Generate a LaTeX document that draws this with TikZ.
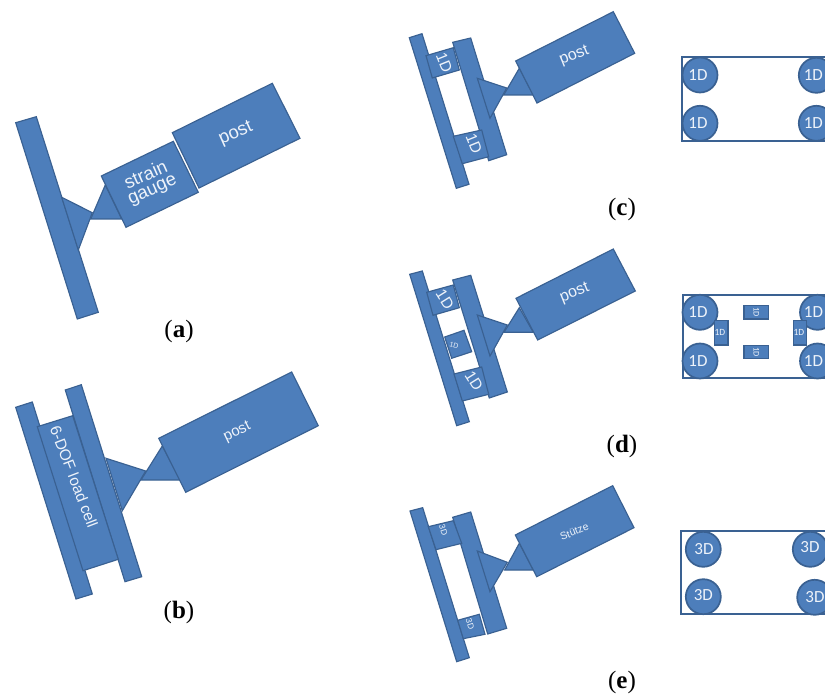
\documentclass[tikz,border=0pt]{standalone}
\usepackage{fontspec}
\setmainfont{Liberation Sans}
\newfontfamily\capfont{Carlito}
\newfontfamily\labfont{Liberation Serif}
\definecolor{partfill}{HTML}{4D7EBB}
\definecolor{partline}{HTML}{3A6192}
\definecolor{parttext}{HTML}{EEF3FA}
\tikzset{
  part/.style={draw=partline,fill=partfill,line width=1.15pt,line join=miter},
  frame/.style={draw=partline,line width=1.7pt},
  disc/.style={circle,draw=partline,fill=partfill,line width=1.7pt,minimum size=35pt,inner sep=0pt},
  tag/.style={text=parttext,inner sep=0pt,align=center},
  disctag/.style={text=parttext,inner sep=0pt,font=\capfont\fontsize{17}{17}\selectfont},
  sublabel/.style={inner sep=0pt,font=\labfont\fontsize{25}{25}\selectfont},
}
\newcommand{\fs}[1]{\fontsize{#1}{#1}\selectfont}
\begin{document}
\begin{tikzpicture}[x=1pt,y=-1pt]
\clip (0,0) rectangle (825,695);
\fill[white] (0,0) rectangle (825,695);

% (a)
\draw[part] (15.7,122.7) -- (36.3,116.7) -- (98.3,312.3) -- (77.3,319) -- cycle;
\draw[part] (61.7,197.3) -- (92.3,212.7) -- (78.3,250) -- cycle;
\draw[part] (105.3,185) -- (90.7,219) -- (121.7,219) -- cycle;
\draw[part] (101.3,176) -- (173.3,141.3) -- (198.3,192.3) -- (126,227.3) -- cycle;
\draw[part] (172.3,132.7) -- (272.3,83.3) -- (300,138.3) -- (199,188) -- cycle;
\node[tag,rotate=24,font=\fs{18.5}] (apost) at (236,134) {post};
\node[tag,rotate=24,font=\fontsize{18.5}{15}\selectfont] (agauge) at (149.3,182.7) {strain\\gauge};
\node[sublabel] (la) at (179,331) {(\textbf{a})};

% (b)
\draw[part] (15.7,407.3) -- (32.3,402) -- (92.3,594) -- (76,599) -- cycle;
\draw[part] (65.3,390) -- (81.3,384.7) -- (141.7,576.7) -- (125,581.7) -- cycle;
\draw[part] (37.3,426.7) -- (72.7,415.7) -- (118.3,559.3) -- (83,570.7) -- cycle;
\draw[part] (106,458.3) -- (145.7,471) -- (122.3,510.7) -- cycle;
\draw[part] (162.3,446) -- (141,480) -- (180,480) -- cycle;
\draw[part] (158.7,438.3) -- (291.7,372) -- (318.3,425.7) -- (185.7,492.3) -- cycle;
\node[tag,rotate=26,font=\fs{15}] (bpost) at (237.3,432.3) {post};
\node[tag,rotate=-69,font=\fs{15.5}] (bcell) at (74,476.7) {6-DOF load cell};
\node[sublabel] (lb) at (179,612) {(\textbf{b})};

% (c)
\draw[part] (409.3,37.7) -- (422,33.7) -- (469,184.3) -- (456.3,188.3) -- cycle;
\draw[part] (452.7,42.3) -- (470.7,38) -- (506.7,154.7) -- (488.7,160.7) -- cycle;
\draw[part] (426,55.7) -- (453.3,47.7) -- (459.3,70) -- (432.3,78) -- cycle;
\draw[part] (453.3,136.3) -- (481.7,130) -- (488.7,156.7) -- (462.3,163.7) -- cycle;
\draw[part] (477.3,78.3) -- (506.7,88) -- (490,118.3) -- cycle;
\draw[part] (519.3,68.3) -- (503.7,95) -- (533.3,95) -- cycle;
\draw[part] (515.7,61) -- (613.3,11.7) -- (634.7,53.3) -- (537,103) -- cycle;
\node[tag,rotate=22,font=\fs{16}] (cpost) at (574.3,56) {post};
\node[tag,rotate=-68,font=\fs{15.5}] (c1) at (444.3,62.3) {1D};
\node[tag,rotate=-68,font=\fs{15.5}] (c2) at (474,143.3) {1D};
\node[sublabel] (lc) at (622,209) {(\textbf{c})};

% (d)
\draw[part] (409.7,274.3) -- (422.3,271) -- (469.3,421.7) -- (456.7,425.7) -- cycle;
\draw[part] (452.7,280) -- (470.7,275.3) -- (507.3,392) -- (489.3,398) -- cycle;
\draw[part] (426.7,292.3) -- (453.3,285) -- (459.3,307.7) -- (433,315.3) -- cycle;
\draw[part] (444.7,337) -- (464,330.3) -- (471.7,351.7) -- (451.7,358.3) -- cycle;
\draw[part] (454,374) -- (481.7,367) -- (488.7,394.3) -- (462.3,401) -- cycle;
\draw[part] (477.3,315) -- (507.3,325) -- (490,356) -- cycle;
\draw[part] (519.3,307.7) -- (504,332.3) -- (533.3,332.3) -- cycle;
\draw[part] (516,298.3) -- (613.3,249) -- (635.3,291) -- (537.7,340) -- cycle;
\node[tag,rotate=22,font=\fs{16}] (dpost) at (574.7,293.3) {post};
\node[tag,rotate=-58,font=\fs{15.5}] (d1) at (445,299.3) {1D};
\node[tag,rotate=-15,font=\fs{7}] (d2) at (454,345.7) {1D};
\node[tag,rotate=-58,font=\fs{15.5}] (d3) at (474,380.7) {1D};
\node[sublabel] (ld) at (622,446) {(\textbf{d})};

% (e)
\draw[part] (410,511) -- (422.7,507.7) -- (469.3,657.7) -- (456.7,661.7) -- cycle;
\draw[part] (452.7,517.3) -- (470.7,512) -- (506.7,628.3) -- (487.7,634) -- cycle;
\draw[part] (428.3,526.7) -- (453.3,520.7) -- (461.7,543.3) -- (436,549.7) -- cycle;
\draw[part] (457.7,620.3) -- (479.3,614.3) -- (485,634.3) -- (463.3,638.7) -- cycle;
\draw[part] (477.3,551) -- (507.3,562.3) -- (490,591.7) -- cycle;
\draw[part] (519.3,543.3) -- (504.7,570) -- (533.3,570) -- cycle;
\draw[part] (515.3,535) -- (612.7,485.7) -- (634,527.7) -- (536.7,576.7) -- cycle;
\node[tag,rotate=22,font=\fs{10.5}] (epost) at (574.3,531.7) {Stütze};
\node[tag,rotate=-72,font=\fs{8.5}] (e1) at (443.3,530) {3D};
\node[tag,rotate=-72,font=\fs{8.5}] (e2) at (470,624) {3D};
\node[sublabel] (le) at (622,682) {(\textbf{e})};

% plan of (c)
\draw[frame] (682.3,57.3) rectangle (840,140.7);
\node[disc] (ca) at (700,75) {};
\node[disc] (cb) at (700,123.3) {};
\node[disc] (cc) at (816.3,75.3) {};
\node[disc] (cd) at (816.3,123.3) {};
\node[disctag] (cat) at (698,75.3) {1D};
\node[disctag] (cbt) at (698,123.3) {1D};
\node[disctag] (cct) at (813.3,75.5) {1D};
\node[disctag] (cdt) at (813.3,123.3) {1D};

% plan of (d)
\draw[frame] (683.3,295) rectangle (840,377.7);
\node[disc] (da) at (700,312.3) {};
\node[disc] (db) at (700,361) {};
\node[disc] (dc) at (817.5,312.3) {};
\node[disc] (dd) at (817.5,361) {};
\node[disctag] (dat) at (698,312.3) {1D};
\node[disctag] (dbt) at (698,361) {1D};
\node[disctag] (dct) at (813.5,312.3) {1D};
\node[disctag] (ddt) at (813.5,361) {1D};
\draw[part,line width=1.5pt] (714.7,320.3) rectangle (728,345);
\draw[part,line width=1.5pt] (793.3,320.3) rectangle (806.7,345);
\draw[part,line width=1.5pt] (744,305.7) rectangle (768.7,319);
\draw[part,line width=1.5pt] (744,345.3) rectangle (768.7,358.7);
\node[tag,font=\capfont\fs{9.5}] (ds1) at (720,332.7) {1D};
\node[tag,font=\capfont\fs{9.5}] (ds2) at (799,332.7) {1D};
\node[tag,rotate=-90,font=\capfont\fs{8.5}] (ds3) at (756.3,312.3) {1D};
\node[tag,rotate=-90,font=\capfont\fs{8.5}] (ds4) at (756.3,352) {1D};

% plan of (e)
\draw[frame] (681,531) rectangle (840,613.7);
\node[disc] (ea) at (703.3,549.3) {};
\node[disc] (eb) at (703.3,596.7) {};
\node[disc] (ec) at (810.3,549.3) {};
\node[disc] (ed) at (814.7,597.3) {};
\node[disctag] (eat) at (704,549.5) {3D};
\node[disctag] (ebt) at (703.3,595.5) {3D};
\node[disctag] (ect) at (810,546.8) {3D};
\node[disctag] (edt) at (815,597.3) {3D};
\end{tikzpicture}
\end{document}
